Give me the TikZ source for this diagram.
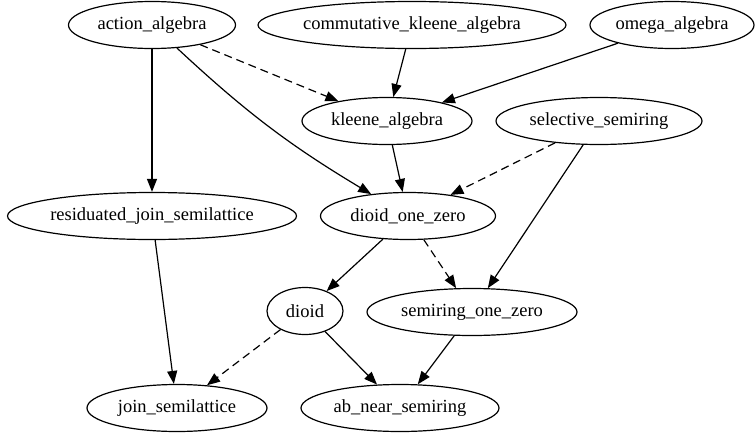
\documentclass[tikz,border=0pt]{standalone}
\usepackage{fontspec}
\setmainfont{Liberation Serif}
\usetikzlibrary{shapes.geometric, arrows.meta, positioning}

\begin{document}
\begin{tikzpicture}
	[x=1pt, y=-1pt,
	alg/.style={draw, ellipse, line width=1.2pt, minimum height=47pt, inner sep=0pt, font=\rmfamily\fontsize{18.5}{21}\selectfont},
	edge/.style={line width=1.2pt, -{Triangle[length=13pt, width=10pt]}},
	weak/.style={edge, dash pattern=on 8pt off 5pt}
	]
	\useasboundingbox (0,0) rectangle (755,434);
	\node (act) [alg, minimum width=167pt] at (152,25) {action\_algebra};
	\node (cka) [alg, minimum width=307pt] at (412,25) {commutative\_kleene\_algebra};
	\node (omg) [alg, minimum width=164pt] at (672,25) {omega\_algebra};
	\node (kle) [alg, minimum width=170pt] at (387,121) {kleene\_algebra};
	\node (sel) [alg, minimum width=206pt] at (599,121) {selective\_semiring};
	\node (rjs) [alg, minimum width=289pt] at (152,216) {residuated\_join\_semilattice};
	\node (doz) [alg, minimum width=175pt] at (408,216) {dioid\_one\_zero};
	\node (dio) [alg, minimum width=76pt] at (305,311) {dioid};
	\node (soz) [alg, minimum width=210pt] at (472,312) {semiring\_one\_zero};
	\node (jsl) [alg, minimum width=180pt] at (177,408) {join\_semilattice};
	\node (ans) [alg, minimum width=198pt] at (400,408) {ab\_near\_semiring};

	\draw [weak] (act) -- (kle);
	\draw [edge] (act) -- (rjs);
	\draw [edge] (act) to[bend right=6] (doz);
	\draw [edge] (cka) -- (kle);
	\draw [edge] (omg) -- (kle);
	\draw [edge] (kle) -- (doz);
	\draw [weak] (sel) -- (doz);
	\draw [edge] (sel) -- (soz);
	\draw [edge] (rjs) -- (jsl);
	\draw [edge] (doz) -- (dio);
	\draw [weak] (doz) -- (soz);
	\draw [weak] (dio) -- (jsl);
	\draw [edge] (dio) -- (ans);
	\draw [edge] (soz) -- (ans);
\end{tikzpicture}
\end{document}
